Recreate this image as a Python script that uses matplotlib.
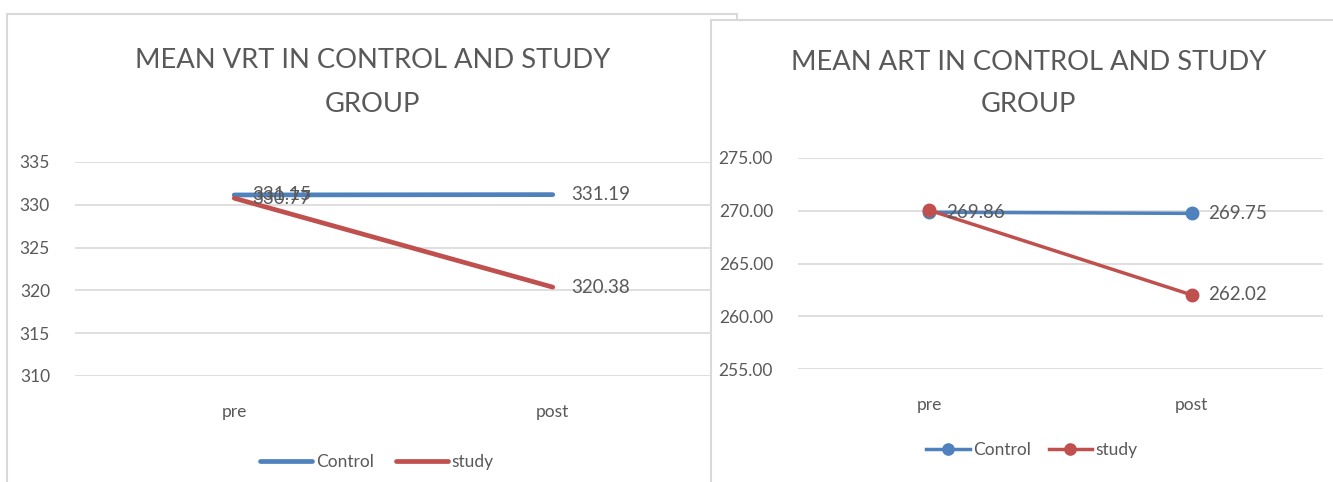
import matplotlib.pyplot as plt
from matplotlib.patches import Rectangle

plt.rcParams['font.family'] = ['Lato', 'DejaVu Sans']

categories = ['pre', 'post']

vrt_control = [331.15, 331.19]
vrt_study = [330.77, 320.38]
vrt_ticks = [310, 315, 320, 325, 330, 335]

art_control = [269.86, 269.75]
art_study = [270.05, 262.02]
art_ticks = [255, 260, 265, 270, 275]

blue = '#4F81BD'
red = '#C0504D'
grey = '#595959'
grid = '#D9D9D9'

W, H = 1333, 482
fig = plt.figure(figsize=(W / 100, H / 100), dpi=100)


def px(x0, y_top, x1, y_bot):
    # pixel box -> figure fraction [left, bottom, width, height]
    return [x0 / W, 1 - y_bot / H, (x1 - x0) / W, (y_bot - y_top) / H]


def style(ax, ticks, fmt):
    ax.set_xlim(-0.5, 1.5)
    ax.set_ylim(ticks[0], ticks[-1])
    ax.set_yticks(ticks)
    ax.set_yticklabels([fmt.format(t) for t in ticks])
    ax.set_xticks(range(len(categories)))
    ax.set_xticklabels(categories)
    for s in ax.spines.values():
        s.set_visible(False)
    ax.grid(axis='y', color=grid, lw=1.2)
    ax.set_axisbelow(True)
    ax.tick_params(axis='y', length=0, pad=18, labelsize=12.5, labelcolor=grey)
    ax.tick_params(axis='x', length=0, pad=20, labelsize=12.5, labelcolor=grey)
    ax.patch.set_alpha(0)


# left chart frame
fig.patches.append(Rectangle((7 / W, -0.1), 730 / W, 1.1 - 14 / H, transform=fig.transFigure,
                             facecolor='white', edgecolor=grid, lw=1.5, zorder=0))

ax1 = fig.add_axes(px(75, 162, 712, 376), zorder=1)
style(ax1, vrt_ticks, '{:d}')
l1, = ax1.plot(range(2), vrt_control, color=blue, lw=3.4, solid_capstyle='round', label='Control')
l2, = ax1.plot(range(2), vrt_study, color=red, lw=3.4, solid_capstyle='round', label='study')
for vals in (vrt_control, vrt_study):
    for i, v in enumerate(vals):
        ax1.annotate(f'{v:.2f}', (i, v), xytext=(13, 0), textcoords='offset points',
                     ha='left', va='center', fontsize=13.5, color=grey)
fig.text(373 / W, 1 - 82 / H, 'MEAN VRT IN CONTROL AND STUDY\nGROUP', ha='center', va='center',
         fontsize=19.7, color=grey, linespacing=1.95, zorder=1)
ax1.legend(handles=[l1, l2], loc='center', bbox_to_anchor=(377 / W, 1 - 462 / H),
           bbox_transform=fig.transFigure, ncol=2, frameon=False, fontsize=12.5,
           labelcolor=grey, handlelength=3.0, handletextpad=0.2, columnspacing=1.3)

# right chart frame, drawn over the left one
fig.patches.append(Rectangle((711 / W, -0.1), 640 / W, 1.1 - 20 / H, transform=fig.transFigure,
                             facecolor='white', edgecolor=grid, lw=1.5, zorder=2))

ax2 = fig.add_axes(px(798, 158, 1323, 369), zorder=3)
style(ax2, art_ticks, '{:.2f}')
m1, = ax2.plot(range(2), art_control, color=blue, lw=2.5, marker='o', ms=9, label='Control')
m2, = ax2.plot(range(2), art_study, color=red, lw=2.5, marker='o', ms=9, label='study')
labels = [(0, art_control[0]), (1, art_control[1]), (1, art_study[1])]
for i, v in labels:
    ax2.annotate(f'{v:.2f}', (i, v), xytext=(12, 0), textcoords='offset points',
                 ha='left', va='center', fontsize=13.5, color=grey)
fig.text(1029 / W, 1 - 84 / H, 'MEAN ART IN CONTROL AND STUDY\nGROUP', ha='center', va='center',
         fontsize=19.7, color=grey, linespacing=1.85, zorder=4)
ax2.legend(handles=[m1, m2], loc='center', bbox_to_anchor=(1032 / W, 1 - 450 / H),
           bbox_transform=fig.transFigure, ncol=2, frameon=False, fontsize=12.5,
           labelcolor=grey, handlelength=2.5, handletextpad=0.2, columnspacing=1.0,
           markerscale=0.9)

fig.savefig('out.png', dpi=100)
